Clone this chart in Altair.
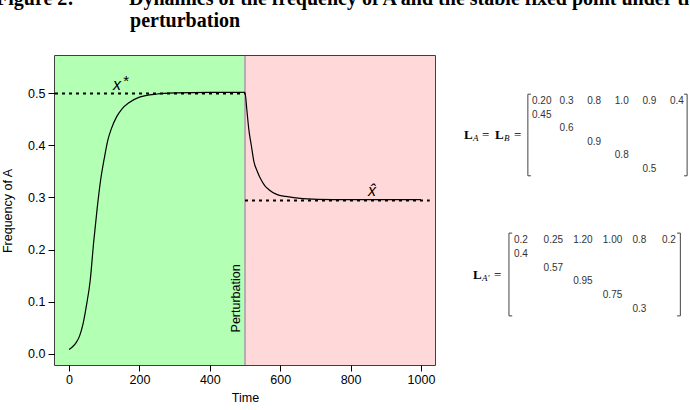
import altair as alt
import pandas as pd

# ---------------- data ----------------
time = [0, 10, 20, 30, 40, 50, 60, 70, 80, 90, 100, 110, 120, 135, 150, 170, 200, 250, 300, 400, 500,
        505, 511, 518, 525, 535, 545, 556, 568, 590, 616, 664, 750, 1000]
freq = [0.008, 0.013, 0.021, 0.034, 0.058, 0.095, 0.14, 0.215, 0.28, 0.335, 0.375, 0.41, 0.432, 0.455,
        0.47, 0.482, 0.493, 0.499, 0.501, 0.502, 0.502,
        0.47, 0.43, 0.40, 0.37, 0.35, 0.335, 0.323, 0.315, 0.306, 0.302, 0.298, 0.296, 0.296]

x_star = 0.5
x_hat = 0.294
perturb_t = 500
hat_line_end = 1025

x_domain = [-40, 1040]
y_domain = [-0.022, 0.572]
x_ticks = [0, 200, 400, 600, 800, 1000]
y_ticks = [0.0, 0.1, 0.2, 0.3, 0.4, 0.5]

phases = ["before", "after"]
phase_start = [x_domain[0], perturb_t]
phase_end = [perturb_t, x_domain[1]]
phase_colors = ["#b3ffb3", "#ffd9d9"]

# Leslie matrices (entries as printed)
m1_vals = ["0.20", "0.3", "0.8", "1.0", "0.9", "0.4", "0.45", "0.6", "0.9", "0.8", "0.5"]
m2_vals = ["0.2", "0.25", "1.20", "1.00", "0.8", "0.2", "0.4", "0.57", "0.95", "0.75", "0.3"]
m_rows = [0, 0, 0, 0, 0, 0, 1, 2, 3, 4, 5]
m_cols = [0, 1, 2, 3, 4, 5, 0, 1, 2, 3, 4]

# ---------------- main panel ----------------
FONT = "Liberation Sans"
xs = alt.Scale(domain=x_domain, nice=False, zero=False)
ys = alt.Scale(domain=y_domain, nice=False, zero=False)

regions = pd.DataFrame({"phase": phases, "start": phase_start, "end": phase_end,
                        "y0": [y_domain[0]] * 2, "y1": [y_domain[1]] * 2})
bg = alt.Chart(regions).mark_rect().encode(
    x=alt.X("start:Q", scale=xs,
            axis=alt.Axis(values=x_ticks, format="d", title="Time", grid=False, domain=False,
                          tickSize=6, tickColor="black", tickWidth=1, labelPadding=2,
                          labelFont=FONT, labelFontSize=12.5, labelColor="black",
                          titleFont=FONT, titleFontSize=12.5, titleFontWeight="normal",
                          titleColor="black", titlePadding=6)),
    x2="end:Q",
    y=alt.Y("y0:Q", scale=ys,
            axis=alt.Axis(values=y_ticks, format=".1f", title="Frequency of A", grid=False,
                          domain=False, tickSize=7, tickColor="black", tickWidth=1,
                          labelPadding=3, labelFont=FONT, labelFontSize=12.5,
                          labelColor="black", titleFont=FONT, titleFontSize=12.5,
                          titleFontWeight="normal", titleColor="black", titlePadding=13)),
    y2="y1:Q",
    color=alt.Color("phase:N", scale=alt.Scale(domain=phases, range=phase_colors), legend=None),
)

vline = alt.Chart(pd.DataFrame({"t": [perturb_t], "y0": [y_domain[0]], "y1": [y_domain[1]]})).mark_rule(
    color="#b0b0b0", strokeWidth=2).encode(x=alt.X("t:Q", scale=xs), y=alt.Y("y0:Q", scale=ys), y2="y1:Q")

eq = pd.DataFrame({"x0": [x_domain[0], perturb_t], "x1": [perturb_t, hat_line_end],
                   "y": [x_star, x_hat]})
dotted = alt.Chart(eq).mark_rule(color="black", strokeWidth=2, strokeDash=[3, 4]).encode(
    x=alt.X("x0:Q", scale=xs), x2="x1:Q", y=alt.Y("y:Q", scale=ys))

curve = alt.Chart(pd.DataFrame({"t": time, "f": freq})).mark_line(
    color="black", strokeWidth=1.2, interpolate="monotone").encode(
    x=alt.X("t:Q", scale=xs), y=alt.Y("f:Q", scale=ys))

def label(text, t, v, **kw):
    return alt.Chart(pd.DataFrame({"t": [t], "v": [v]})).mark_text(text=text, **kw).encode(
        x=alt.X("t:Q", scale=xs), y=alt.Y("v:Q", scale=ys))

lab_x = label("x", 136, 0.517, font=FONT, fontSize=16, fontStyle="italic", color="black")
lab_star = label("*", 162, 0.524, font=FONT, fontSize=15, color="black")
lab_hat = label("x\u0302", 861, 0.313, font=FONT, fontSize=16, fontStyle="italic", color="black")
lab_pert = label("Perturbation", 474, 0.106, font=FONT, fontSize=12.5, angle=270,
                 align="center", baseline="middle", color="black")

main = alt.layer(bg, vline, dotted, curve, lab_x, lab_star, lab_hat, lab_pert).properties(
    width=380, height=309, view=alt.ViewBackground(stroke="black", strokeWidth=1.5))

# ---------------- matrix panels ----------------
def matrix_panel(vals, x_range, y_range, left_b, right_b, pieces, anchor_col):
    xsc = alt.Scale(domain=[0, 5], range=x_range, nice=False, zero=False)
    ysc = alt.Scale(domain=[0, 5], range=y_range, nice=False, zero=False)
    df = pd.DataFrame({"v": vals, "row": m_rows, "col": m_cols})
    entries = alt.Chart(df).mark_text(align="left", baseline="middle", font=FONT, fontSize=10,
                                      color="#333333").encode(
        x=alt.X("col:Q", scale=xsc, axis=None), y=alt.Y("row:Q", scale=ysc, axis=None), text="v:N")
    serif = 0.11
    br = pd.DataFrame({
        "x0": [left_b, left_b, left_b, right_b, right_b - serif, right_b - serif],
        "x1": [left_b, left_b + serif, left_b + serif, right_b, right_b, right_b],
        "y0": [-0.5, -0.5, 5.5, -0.5, -0.5, 5.5],
        "y1": [5.5, -0.5, 5.5, 5.5, -0.5, 5.5],
    })
    brackets = alt.Chart(br).mark_rule(color="#444444", strokeWidth=1).encode(
        x=alt.X("x0:Q", scale=xsc, axis=None), x2="x1:Q",
        y=alt.Y("y0:Q", scale=ysc, axis=None), y2="y1:Q")
    layers = [entries, brackets]
    anchor = pd.DataFrame({"c": [anchor_col], "r": [2.5]})
    for txt, dx, dy, size, weight, style in pieces:
        layers.append(alt.Chart(anchor).mark_text(
            text=txt, dx=dx, dy=dy, align="left", baseline="middle", font="Liberation Serif",
            fontSize=size, fontWeight=weight, fontStyle=style, color="black").encode(
            x=alt.X("c:Q", scale=xsc, axis=None), y=alt.Y("r:Q", scale=ysc, axis=None)))
    return alt.layer(*layers).properties(width=235, height=150)

pieces1 = [("L", 0, 0, 13, "bold", "normal"), ("A", 9, 3, 9, "normal", "italic"),
           ("=", 18, 0, 13, "normal", "normal"), ("L", 31, 0, 13, "bold", "normal"),
           ("B", 40, 3, 9, "normal", "italic"), ("=", 50, 0, 13, "normal", "normal")]
pieces2 = [("L", 0, 0, 13, "bold", "normal"), ("A\u2032", 9, 3, 9, "normal", "italic"),
           ("=", 21, 0, 13, "normal", "normal")]

m1 = matrix_panel(m1_vals, [76, 214], [45, 113], -0.15, 5.62, pieces1, -2.46)
m2 = matrix_panel(m2_vals, [58, 206], [22, 91], -0.17, 5.62, pieces2, -1.385)

right = alt.vconcat(m1, m2, spacing=10)

line1 = "Figure 2:\u2003\u2003\u2002 Dynamics of the frequency of A and the stable fixed point under the"
line2 = "\u200b\u2003\u2003\u2003\u2003\u2003\u2003\u2002\u2009perturbation"

chart = alt.hconcat(main, right, spacing=19).properties(
    title=alt.TitleParams(text=[line1, line2], anchor="start", font="Liberation Serif",
                          fontSize=20, fontWeight="bold", lineHeight=22, color="black",
                          offset=23, dx=-4.8),
    padding={"left": -4, "top": -11, "right": -18, "bottom": 0},
).configure_view(stroke="transparent")

chart.save("out.html", embed_options={"renderer": "svg", "actions": False})
